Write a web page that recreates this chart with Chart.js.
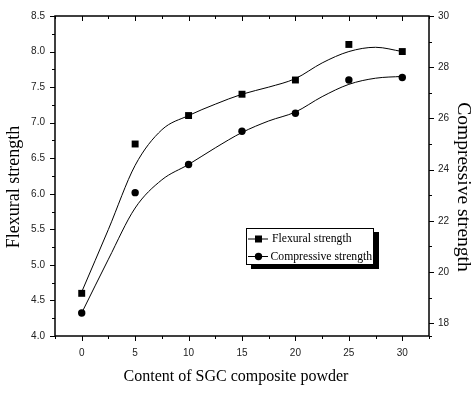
<!DOCTYPE html>
<html>
<head>
<meta charset="utf-8">
<script src="https://cdn.jsdelivr.net/npm/chart.js@4.4.1/dist/chart.umd.min.js"></script>
<style>
  html, body { margin: 0; background: #fff; }
</style>
</head>
<body>
<canvas id="chart" width="472" height="394"></canvas>
<script>
// measured points
const content = [0, 5, 10, 15, 20, 25, 30];
const flexural = [4.6, 6.7, 7.1, 7.4, 7.6, 8.1, 8.0];
const compressive = [18.4, 23.1, 24.2, 25.5, 26.2, 27.5, 27.6];

// fitted curves
const fitContent = [0, 2.5, 5, 7.5, 10, 12.5, 15, 17.5, 20, 22.5, 25, 27.5, 30];
const flexuralFit = [4.62, 5.5, 6.4, 6.9, 7.1, 7.26, 7.4, 7.5, 7.62, 7.84, 8.0, 8.06, 8.0];
const compressiveFit = [18.4, 20.5, 22.5, 23.6, 24.2, 24.85, 25.45, 25.9, 26.25, 26.85, 27.33, 27.57, 27.64];

const xTicks = [0, 5, 10, 15, 20, 25, 30];
const leftTicks = [4.0, 4.5, 5.0, 5.5, 6.0, 6.5, 7.0, 7.5, 8.0, 8.5];
const rightTicks = [18, 20, 22, 24, 26, 28, 30];

const pts = (xs, ys) => xs.map((x, i) => ({ x, y: ys[i] }));

const axisDecor = {
  id: 'axisDecor',
  afterDraw(chart) {
    const { ctx, chartArea: a, scales } = chart;
    const { x, y, y2 } = scales;
    ctx.save();
    ctx.strokeStyle = '#000';
    ctx.lineWidth = 1.5;
    ctx.strokeRect(a.left, a.top, a.right - a.left, a.bottom - a.top);

    ctx.lineWidth = 1;
    ctx.beginPath();
    const withMinor = arr => {
      const out = [];
      arr.forEach((v, i) => {
        out.push([v, 5]);
        if (i < arr.length - 1) out.push([(v + arr[i + 1]) / 2, 3]);
      });
      return out;
    };
    const xAll = withMinor(xTicks);
    xAll.unshift([xTicks[0] - 2.5, 3]);
    xAll.push([xTicks[xTicks.length - 1] + 2.5, 3]);
    xAll.forEach(([v, len]) => {
      const px = Math.round(x.getPixelForValue(v)) + 0.5;
      ctx.moveTo(px, a.bottom); ctx.lineTo(px, a.bottom + len);
      ctx.moveTo(px, a.top); ctx.lineTo(px, a.top + len);
    });
    withMinor(leftTicks).forEach(([v, len]) => {
      const py = Math.round(y.getPixelForValue(v)) + 0.5;
      ctx.moveTo(a.left - len, py); ctx.lineTo(a.left, py);
    });
    const rAll = withMinor(rightTicks);
    rAll.unshift([rightTicks[0] - 0.5, 3]);
    rAll.forEach(([v, len]) => {
      const py = Math.round(y2.getPixelForValue(v)) + 0.5;
      ctx.moveTo(a.right, py); ctx.lineTo(a.right + len, py);
    });
    ctx.stroke();

    // axis titles
    ctx.fillStyle = '#000';
    ctx.textAlign = 'center';
    ctx.textBaseline = 'middle';
    ctx.font = '16px "Liberation Serif"';
    ctx.fillText('Content of SGC composite powder', 236, 377);

    ctx.save();
    ctx.translate(14, 187);
    ctx.rotate(-Math.PI / 2);
    ctx.font = '18px "Liberation Serif"';
    ctx.fillText('Flexural strength', 0, 0);
    ctx.restore();

    ctx.save();
    ctx.translate(463, 187);
    ctx.rotate(Math.PI / 2);
    ctx.font = '19.5px "Liberation Serif"';
    ctx.fillText('Compressive strength', 0, 0);
    ctx.restore();

    // legend with drop shadow
    const lx = 246, ly = 228, lw = 127, lh = 36;
    ctx.fillStyle = '#000';
    ctx.fillRect(lx + 5, ly + 4, lw + 1, lh + 1);
    ctx.fillStyle = '#fff';
    ctx.fillRect(lx, ly, lw, lh);
    ctx.lineWidth = 1;
    ctx.strokeRect(lx + 0.5, ly + 0.5, lw, lh);

    const rows = [
      { label: chart.data.datasets[0].label, style: 'rect', yy: 239 },
      { label: chart.data.datasets[1].label, style: 'circle', yy: 256.5 }
    ];
    ctx.textAlign = 'left';
    ctx.font = '11.7px "Liberation Serif"';
    rows.forEach(r => {
      ctx.beginPath();
      ctx.moveTo(lx + 2, r.yy); ctx.lineTo(lx + 22, r.yy);
      ctx.stroke();
      ctx.fillStyle = '#000';
      if (r.style === 'rect') ctx.fillRect(lx + 9, r.yy - 3.5, 7, 7);
      else { ctx.beginPath(); ctx.arc(lx + 12.5, r.yy, 3.7, 0, Math.PI * 2); ctx.fill(); }
      ctx.fillText(r.label, r.style === 'rect' ? lx + 26 : lx + 24.5, r.yy);
    });
    ctx.restore();
  }
};

const tickFont = { family: '"Liberation Sans", Arial', size: 10 };

new Chart(document.getElementById('chart'), {
  type: 'scatter',
  data: {
    datasets: [
      { label: 'Flexural strength', data: pts(content, flexural), yAxisID: 'y',
        pointStyle: 'rect', pointRadius: 4.9, backgroundColor: '#000', borderColor: '#000', borderWidth: 0 },
      { label: 'Compressive strength', data: pts(content, compressive), yAxisID: 'y2',
        pointStyle: 'circle', pointRadius: 3.7, backgroundColor: '#000', borderColor: '#000', borderWidth: 0 },
      { label: 'flex fit', data: pts(fitContent, flexuralFit), yAxisID: 'y', showLine: true,
        pointRadius: 0, borderColor: '#000', borderWidth: 1, cubicInterpolationMode: 'monotone' },
      { label: 'comp fit', data: pts(fitContent, compressiveFit), yAxisID: 'y2', showLine: true,
        pointRadius: 0, borderColor: '#000', borderWidth: 1, cubicInterpolationMode: 'monotone' }
    ]
  },
  options: {
    responsive: false,
    animation: false,
    devicePixelRatio: 1,
    layout: { padding: { top: 12, left: 0, right: 0, bottom: 0 } },
    plugins: { legend: { display: false }, tooltip: { enabled: false } },
    scales: {
      x: {
        type: 'linear', min: -2.5, max: 32.5,
        afterBuildTicks: s => { s.ticks = xTicks.map(v => ({ value: v })); },
        afterFit: s => { s.height = 58; },
        grid: { display: false, drawTicks: false },
        border: { display: false },
        ticks: { font: tickFont, color: '#222', padding: 11, maxRotation: 0 }
      },
      y: {
        position: 'left', min: 4, max: 8.5,
        afterBuildTicks: s => { s.ticks = leftTicks.map(v => ({ value: v })); },
        afterFit: s => { s.width = 55; },
        grid: { display: false, drawTicks: false },
        border: { display: false },
        ticks: { font: tickFont, color: '#222', padding: 10, callback: v => v.toFixed(1) }
      },
      y2: {
        position: 'right', min: 17.5, max: 30,
        afterBuildTicks: s => { s.ticks = rightTicks.map(v => ({ value: v })); },
        afterFit: s => { s.width = 43; },
        grid: { display: false, drawTicks: false },
        border: { display: false },
        ticks: { font: tickFont, color: '#222', padding: 9 }
      }
    }
  },
  plugins: [axisDecor]
});
</script>
</body>
</html>
